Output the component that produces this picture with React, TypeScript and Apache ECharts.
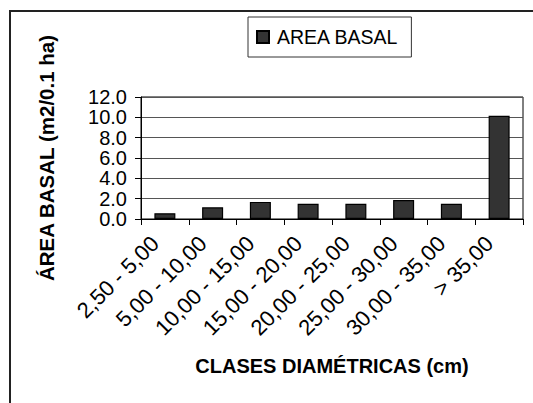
import React, { useEffect, useRef } from "react";
import * as echarts from "echarts";

// Diameter classes (cm) and basal area per class (m2 / 0.1 ha)
const categories: string[] = [
  "2,50 - 5,00",
  "5,00 - 10,00",
  "10,00 - 15,00",
  "15,00 - 20,00",
  "20,00 - 25,00",
  "25,00 - 30,00",
  "30,00 - 35,00",
  "> 35,00",
];
const basalArea: number[] = [0.57, 1.15, 1.68, 1.5, 1.5, 1.86, 1.5, 10.15];
const seriesName = "AREA BASAL";
const yTitle = "ÁREA BASAL (m2/0.1 ha)";
const xTitle = "CLASES DIAMÉTRICAS (cm)";
const yMin = 0;
const yMax = 12;
const yStep = 2;

const FONT = "'Liberation Sans', Arial, Helvetica, sans-serif";

export default function App() {
  const ref = useRef<HTMLDivElement>(null);

  useEffect(() => {
    if (!ref.current) return;
    const chart = echarts.init(ref.current, null, { renderer: "svg" });
    chart.setOption({
      animation: false,
      backgroundColor: "#ffffff",
      textStyle: { fontFamily: FONT, color: "#000" },
      graphic: [
        {
          // outer chart frame, open to the right and bottom edges of the page
          type: "rect",
          z: -10,
          shape: { x: 10, y: 11, width: 600, height: 500 },
          style: { fill: "none", stroke: "#222", lineWidth: 2 },
          silent: true,
        },
      ],
      legend: {
        left: 248,
        top: 17,
        orient: "horizontal",
        padding: [9, 13, 9, 8],
        borderColor: "#333",
        borderWidth: 1,
        backgroundColor: "#fff",
        itemWidth: 12,
        itemHeight: 12,
        icon: "rect",
        selectedMode: false,
        textStyle: {
          fontFamily: FONT,
          fontSize: 19.5,
          color: "#000",
          lineHeight: 22,
          padding: [0, 0, 0, 3],
        },
        data: [seriesName],
      },
      grid: {
        left: 141,
        right: 10,
        top: 97,
        bottom: 184,
        show: true,
        borderColor: "#000",
        borderWidth: 1,
        backgroundColor: "transparent",
      },
      xAxis: {
        type: "category",
        data: categories,
        boundaryGap: true,
        axisLine: { show: true, lineStyle: { color: "#000", width: 1 } },
        axisTick: { show: true, length: 6, lineStyle: { color: "#000" } },
        axisLabel: {
          interval: 0,
          rotate: 45,
          margin: 11,
          padding: [0, 14, 0, 0],
          fontSize: 22,
          fontFamily: FONT,
          color: "#000",
        },
        name: xTitle,
        nameLocation: "middle",
        nameGap: 137,
        nameTextStyle: {
          fontFamily: FONT,
          fontSize: 20,
          fontWeight: "bold",
          color: "#000",
        },
        splitLine: { show: false },
      },
      yAxis: {
        type: "value",
        min: yMin,
        max: yMax,
        interval: yStep,
        axisLine: { show: true, lineStyle: { color: "#000", width: 1 } },
        axisTick: { show: true, length: 6, lineStyle: { color: "#000" } },
        axisLabel: {
          margin: 14,
          fontSize: 20,
          fontFamily: FONT,
          color: "#000",
          formatter: (v: number) => v.toFixed(1),
        },
        splitLine: { show: true, lineStyle: { color: "#555", width: 1 } },
        name: yTitle,
        nameLocation: "middle",
        nameGap: 84,
        nameTextStyle: {
          fontFamily: FONT,
          fontSize: 20.5,
          fontWeight: "bold",
          color: "#000",
        },
      },
      series: [
        {
          name: seriesName,
          type: "bar",
          data: basalArea,
          barWidth: 21,
          itemStyle: { color: "#333333", borderColor: "#000", borderWidth: 1.2 },
        },
      ],
    });
    return () => chart.dispose();
  }, []);

  return (
    <div
      ref={ref}
      style={{ position: "fixed", left: 0, top: 0, width: 533, height: 403 }}
    />
  );
}
